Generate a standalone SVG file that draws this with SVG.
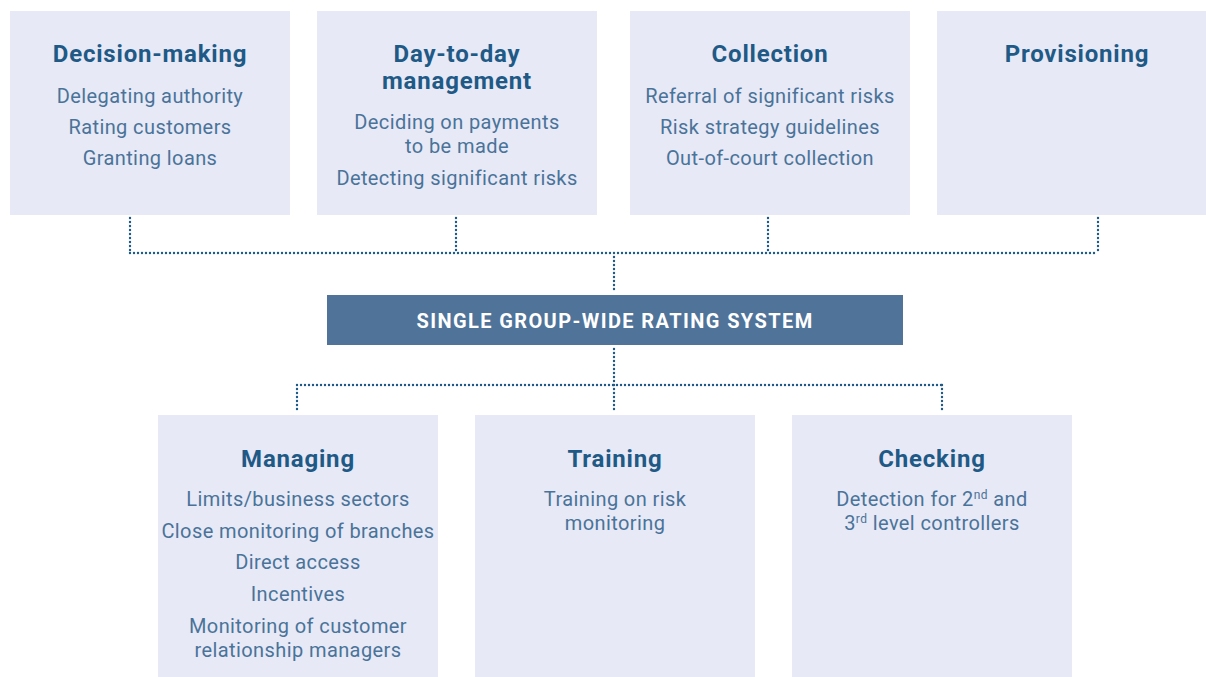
<svg xmlns="http://www.w3.org/2000/svg" width="1206" height="677" viewBox="0 0 1206 677">
<style>
.box{fill:#e7e9f6}
.t{font-family:Roboto,"Liberation Sans",sans-serif;font-weight:bold;font-size:24px;letter-spacing:0.8px;fill:#1f5a86;text-anchor:middle}
.b{font-family:Roboto,"Liberation Sans",sans-serif;font-size:20px;letter-spacing:0.4px;fill:#4a7399;text-anchor:middle}
.c{fill:none;stroke:#1f5a86;stroke-width:2.4;stroke-dasharray:0 4;stroke-linecap:round}
</style>
<rect width="1206" height="677" fill="#fff"/>
<g id="connectors">
<path class="c" d="M130 218V253M456 218V253M768 218V253M1098 218V253M130 253H1098M614 253V292"/>
<path class="c" d="M614 349V413M297 385H942M297 385V412M942 385V412"/>
</g>
<g id="decision">
<rect class="box" x="10" y="11" width="280" height="204"/>
<text class="t" x="150" y="62">Decision-making</text>
<text class="b" x="150" y="103">Delegating authority</text>
<text class="b" x="150" y="134">Rating customers</text>
<text class="b" x="150" y="165">Granting loans</text>
</g>
<g id="daytoday">
<rect class="box" x="317" y="11" width="280" height="204"/>
<text class="t" x="457" y="62">Day-to-day</text>
<text class="t" x="457" y="89">management</text>
<text class="b" x="457" y="129">Deciding on payments</text>
<text class="b" x="457" y="153">to be made</text>
<text class="b" x="457" y="185">Detecting significant risks</text>
</g>
<g id="collection">
<rect class="box" x="630" y="11" width="280" height="204"/>
<text class="t" x="770" y="62">Collection</text>
<text class="b" x="770" y="103">Referral of significant risks</text>
<text class="b" x="770" y="134">Risk strategy guidelines</text>
<text class="b" x="770" y="165">Out-of-court collection</text>
</g>
<g id="provisioning">
<rect class="box" x="937" y="11" width="269" height="204"/>
<text class="t" x="1077" y="62">Provisioning</text>
</g>
<g id="rating">
<rect x="327" y="295" width="576" height="50" fill="#4f7399"/>
<text x="615" y="328" font-family="Roboto,'Liberation Sans',sans-serif" font-weight="bold" font-size="20" letter-spacing="1.4" fill="#fff" text-anchor="middle">SINGLE GROUP-WIDE RATING SYSTEM</text>
</g>
<g id="managing">
<rect class="box" x="158" y="415" width="280" height="262"/>
<text class="t" x="298" y="467">Managing</text>
<text class="b" x="298" y="506">Limits/business sectors</text>
<text class="b" x="298" y="538">Close monitoring of branches</text>
<text class="b" x="298" y="569">Direct access</text>
<text class="b" x="298" y="601">Incentives</text>
<text class="b" x="298" y="633">Monitoring of customer</text>
<text class="b" x="298" y="657">relationship managers</text>
</g>
<g id="training">
<rect class="box" x="475" y="415" width="280" height="262"/>
<text class="t" x="615" y="467">Training</text>
<text class="b" x="615" y="506">Training on risk</text>
<text class="b" x="615" y="530">monitoring</text>
</g>
<g id="checking">
<rect class="box" x="792" y="415" width="280" height="262"/>
<text class="t" x="932" y="467">Checking</text>
<text class="b" x="932" y="506">Detection for 2<tspan font-size="12" dy="-7">nd</tspan><tspan dy="7"> and</tspan></text>
<text class="b" x="932" y="530">3<tspan font-size="12" dy="-7">rd</tspan><tspan dy="7"> level controllers</tspan></text>
</g>
</svg>
